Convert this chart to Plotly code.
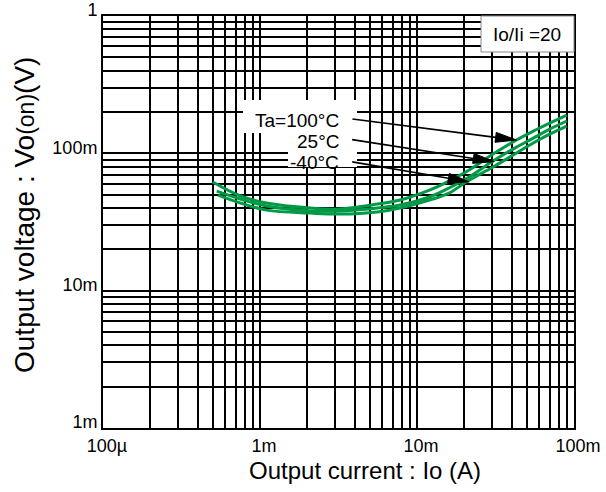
import math
import plotly.graph_objects as go

# Output current (A) for each ambient temperature curve
current_100 = [0.50e-3, 0.75e-3, 1.1e-3, 2.1e-3, 3.2e-3, 5.6e-3, 7.8e-3, 12e-3, 16e-3, 21.5e-3, 30.5e-3, 43e-3, 55e-3, 70e-3, 90e-3]
current_25 = [0.53e-3, 0.75e-3, 1.1e-3, 2.1e-3, 3.2e-3, 5.6e-3, 7.8e-3, 12e-3, 16e-3, 21.5e-3, 30.5e-3, 43e-3, 55e-3, 70e-3, 90e-3]
current_m40 = [0.54e-3, 0.75e-3, 1.1e-3, 2.1e-3, 3.2e-3, 5.6e-3, 7.8e-3, 12e-3, 16e-3, 21e-3, 30.5e-3, 43e-3, 55e-3, 70e-3, 90e-3]

# Output on-voltage (V)
vout_100 = [61.8e-3, 48.9e-3, 43.5e-3, 40.0e-3, 39.3e-3, 42.7e-3, 45.7e-3, 54.0e-3, 62.8e-3, 75.6e-3, 98.8e-3, 125e-3, 145e-3, 166e-3, 190e-3]
vout_25 = [53.1e-3, 46.5e-3, 41.3e-3, 38.0e-3, 38.0e-3, 40.0e-3, 42.0e-3, 48.1e-3, 55.9e-3, 67.2e-3, 87.9e-3, 111e-3, 129e-3, 150e-3, 172e-3]
vout_m40 = [49.7e-3, 43.5e-3, 38.6e-3, 36.7e-3, 36.1e-3, 37.4e-3, 40.0e-3, 45.7e-3, 51.4e-3, 62.8e-3, 79.5e-3, 100.5e-3, 119e-3, 138e-3, 158e-3]

# Axis ticks
x_major = [1e-4, 1e-3, 1e-2, 1e-1]
x_labels = ["100µ", "1m", "10m", "100m"]
y_major = [1e-3, 1e-2, 1e-1, 1]
y_labels = ["1m", "10m", "100m", "1"]

# Arrow targets on each curve (current, voltage)
arrow_targets = {"100": (43e-3, 125e-3), "25": (31e-3, 87e-3), "-40": (21.5e-3, 62e-3)}

GREEN = "#009a46"
FONT = "Arial, Liberation Sans, sans-serif"

X_RANGE = (-4, -1)
Y_RANGE = (-3, 0)


def log_grid(lo_exp, hi_exp, majors, labels):
    vals, texts = [], []
    for e in range(lo_exp, hi_exp + 1):
        for k in range(1, 10):
            v = k * 10 ** e
            if e == hi_exp and k > 1:
                break
            vals.append(v)
            texts.append(labels[majors.index(v)] if (k == 1 and v in majors) else "")
    return vals, texts


xvals, xtexts = log_grid(X_RANGE[0], X_RANGE[1], x_major, x_labels)
yvals, ytexts = log_grid(Y_RANGE[0], Y_RANGE[1], y_major, y_labels)

fig = go.Figure()
for cur, v in [(current_100, vout_100), (current_25, vout_25), (current_m40, vout_m40)]:
    fig.add_trace(go.Scatter(x=cur, y=v, mode="lines",
                             line=dict(color=GREEN, width=3, shape="spline", smoothing=1.0),
                             showlegend=False, hoverinfo="skip"))

W, H = 606, 492
L, R, T, B = 103, 32, 16, 64
pw, ph = W - L - R, H - T - B


def px(x):
    return (x - L) / pw


def py(y):
    return 1 - (y - T) / ph


def data_to_pixel(xv, yv):
    lx = (math.log10(xv) - X_RANGE[0]) / (X_RANGE[1] - X_RANGE[0])
    ly = (math.log10(yv) - Y_RANGE[0]) / (Y_RANGE[1] - Y_RANGE[0])
    return L + lx * pw, T + (1 - ly) * ph


shapes = [
    # white backing for the temperature labels
    dict(type="rect", xref="paper", yref="paper", x0=px(243), x1=px(357), y0=py(133), y1=py(100),
         fillcolor="white", line=dict(width=0), layer="above"),
    dict(type="rect", xref="paper", yref="paper", x0=px(288), x1=px(357), y0=py(167), y1=py(133),
         fillcolor="white", line=dict(width=0), layer="above"),
    # condition box
    dict(type="rect", xref="paper", yref="paper", x0=px(481), x1=1.0, y0=py(52), y1=1.0,
         fillcolor="white", line=dict(color="#8a8a8a", width=1), layer="above"),
]

# Arrows from labels to curves: shaft plus a long narrow filled head
tails = {"100": (-164, -21), "25": (-142, -22), "-40": (-117, -20)}
HEAD_LEN, HEAD_HALF = 21, 5
for key, (cx, cv) in arrow_targets.items():
    tx, ty = data_to_pixel(cx, cv)
    sx, sy = tx + tails[key][0], ty + tails[key][1]
    dx, dy = tx - sx, ty - sy
    n = math.hypot(dx, dy)
    ux, uy = dx / n, dy / n
    bx, by = tx - ux * HEAD_LEN, ty - uy * HEAD_LEN
    lx1, ly1 = bx - uy * HEAD_HALF, by + ux * HEAD_HALF
    lx2, ly2 = bx + uy * HEAD_HALF, by - ux * HEAD_HALF
    shapes.append(dict(type="line", xref="paper", yref="paper",
                       x0=px(sx), y0=py(sy), x1=px(bx), y1=py(by),
                       line=dict(color="black", width=1.6), layer="above"))
    path = (f"M{px(tx)},{py(ty)} L{px(lx1)},{py(ly1)} L{px(lx2)},{py(ly2)} Z")
    shapes.append(dict(type="path", xref="paper", yref="paper", path=path,
                       fillcolor="black", line=dict(color="black", width=1), layer="above"))

annotations = [
    dict(text="Io/Ii =20", xref="paper", yref="paper", x=px(527), y=py(35), showarrow=False,
         font=dict(family=FONT, size=19, color="black"), xanchor="center", yanchor="middle"),
    dict(text="Ta=100°C", xref="paper", yref="paper", x=px(341), y=py(120), showarrow=False,
         font=dict(family=FONT, size=19, color="black"), xanchor="right", yanchor="middle"),
    dict(text="25°C", xref="paper", yref="paper", x=px(341), y=py(141), showarrow=False,
         font=dict(family=FONT, size=19, color="black"), xanchor="right", yanchor="middle"),
    dict(text="-40°C", xref="paper", yref="paper", x=px(341), y=py(162), showarrow=False,
         font=dict(family=FONT, size=19, color="black"), xanchor="right", yanchor="middle"),
    dict(text="Output current : Io (A)", xref="paper", yref="paper", x=px(365), y=py(470),
         showarrow=False, font=dict(family=FONT, size=24, color="black"),
         xanchor="center", yanchor="middle"),
    dict(text="Output voltage : Vo<span style='font-size:23px'>(on)</span>(V)",
         xref="paper", yref="paper", x=px(24), y=py(215), textangle=-90,
         showarrow=False, font=dict(family=FONT, size=28, color="black"),
         xanchor="center", yanchor="middle"),
]

axis_common = dict(type="log", showgrid=True, gridcolor="black", gridwidth=2,
                   showline=True, mirror=True, linecolor="black", linewidth=2,
                   ticks="", zeroline=False, tickmode="array", ticklabeloverflow="allow",
                   automargin=False,
                   tickfont=dict(family=FONT, size=18, color="black"))

fig.update_layout(
    width=W, height=H,
    margin=dict(l=L, r=R, t=T, b=B, autoexpand=False),
    paper_bgcolor="white", plot_bgcolor="white",
    xaxis=dict(range=list(X_RANGE), tickvals=xvals, ticktext=xtexts, ticklabelshift=4, **axis_common),
    yaxis=dict(range=list(Y_RANGE), tickvals=yvals, ticktext=ytexts, ticklabelshift=-6, **axis_common),
    shapes=shapes,
    annotations=annotations,
)

fig.write_html("out.html")
